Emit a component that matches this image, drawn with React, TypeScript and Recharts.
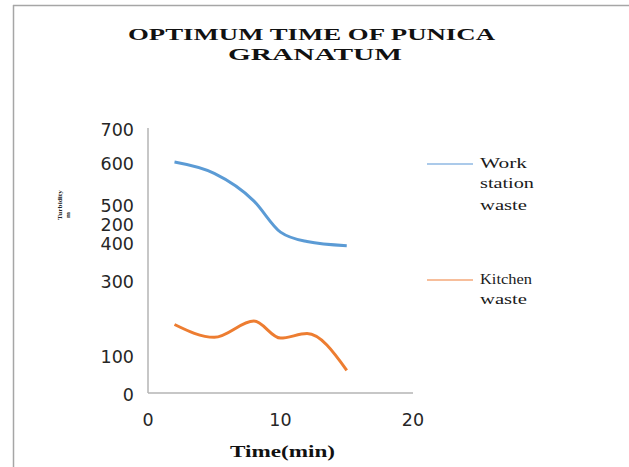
import React from 'react';
import { LineChart, Line, XAxis, YAxis } from 'recharts';

// values
const TIME = [2, 5, 8, 10, 12, 15];
const WORK_STATION = [610, 580, 507, 425, 400, 389];
const KITCHEN = [181, 147, 190, 145, 157, 60];

const X_TICKS = [0, 10, 20];
// the source figure has a stray "200" label sitting between 400 and 500
const Y_TICKS = [0, 100, 300, 400, 450, 500, 610, 700];
const Y_TICK_LABELS = ['0', '100', '300', '400', '200', '500', '600', '700'];

const SERIES = [
  { key: 'work', lines: ['Work', 'station', 'waste'], widths: [47, 54, 47], color: '#5b9bd5', legendColor: '#8fb9e3' },
  { key: 'kitchen', lines: ['Kitchen', 'waste'], widths: [52, 47], color: '#ed7d31', legendColor: '#f4a97a' },
];

const data = TIME.map((t, i) => ({ time: t, work: WORK_STATION[i], kitchen: KITCHEN[i] }));

const TICK_FONT = '"DejaVu Sans", Verdana, sans-serif';
const SERIF = '"Liberation Serif", "Times New Roman", serif';

const YTick = (props: any) => {
  const { x, y, payload } = props;
  const idx = Y_TICKS.indexOf(payload.value);
  return (
    <text x={x} y={y + 2} dy="0.35em" textAnchor="end" fontFamily={TICK_FONT} fontSize={17.5} fill="#262626">
      {Y_TICK_LABELS[idx]}
    </text>
  );
};

const XTick = (props: any) => {
  const { x, y, payload } = props;
  return (
    <text x={x} y={y + 25} dy="0.35em" textAnchor="middle" fontFamily={TICK_FONT} fontSize={17.5} fill="#262626">
      {payload.value}
    </text>
  );
};

// legend entries: top of each block, in page pixels
const LEGEND_TOP = [164, 280];
const LEGEND_LINE_GAP = [0, 20, 42];

export default function App() {
  return (
    <div style={{ position: 'absolute', left: 0, top: 0, width: 629, height: 467, background: '#fff' }}>
      <LineChart
        width={629}
        height={467}
        data={data}
        margin={{ top: 128, right: 216, bottom: 44, left: 68 }}
      >
        <XAxis
          dataKey="time"
          type="number"
          domain={[0, 20]}
          ticks={X_TICKS}
          height={30}
          tickLine={false}
          tickSize={0}
          tick={<XTick />}
          axisLine={{ stroke: '#b4b4b4', strokeWidth: 1.5 }}
        />
        <YAxis
          type="number"
          domain={[0, 700]}
          ticks={Y_TICKS}
          width={80}
          tickLine={false}
          tickSize={0}
          tickMargin={14}
          tick={<YTick />}
          interval={0}
          axisLine={{ stroke: '#b4b4b4', strokeWidth: 1.5 }}
        />
        {SERIES.map(s => (
          <Line
            key={s.key}
            dataKey={s.key}
            name={s.lines.join(' ')}
            type="monotone"
            stroke={s.color}
            strokeWidth={3}
            dot={false}
            isAnimationActive={false}
          />
        ))}
      </LineChart>
      <svg
        width={629}
        height={467}
        style={{ position: 'absolute', left: 0, top: 0, pointerEvents: 'none' }}
      >
        <line x1={13.5} x2={13.5} y1={5} y2={467} stroke="#a6a6a6" strokeWidth={1.5} />
        <line x1={13} x2={629} y1={5.5} y2={5.5} stroke="#a6a6a6" strokeWidth={1.5} />
        <text x={128} y={40} fontFamily={SERIF} fontWeight="bold" fontSize={17} textLength={367} lengthAdjust="spacingAndGlyphs" fill="#111">
          OPTIMUM TIME OF PUNICA
        </text>
        <text x={228} y={60} fontFamily={SERIF} fontWeight="bold" fontSize={17} textLength={174} lengthAdjust="spacingAndGlyphs" fill="#111">
          GRANATUM
        </text>
        <text x={230} y={457} fontFamily={SERIF} fontWeight="bold" fontSize={16} textLength={105} lengthAdjust="spacingAndGlyphs" fill="#111">
          Time(min)
        </text>
        <text transform="translate(62 220) rotate(-90)" fontFamily={SERIF} fontWeight="bold" fontSize={6} textLength={30} lengthAdjust="spacingAndGlyphs" fill="#222">
          Turbidity
        </text>
        <text transform="translate(70 218) rotate(-90)" fontFamily={SERIF} fontWeight="bold" fontSize={7} fill="#222">
          m
        </text>
        {SERIES.map((s, si) => (
          <g key={s.key}>
            <line x1={427} x2={473} y1={LEGEND_TOP[si]} y2={LEGEND_TOP[si]} stroke={s.legendColor} strokeWidth={1.5} />
            {s.lines.map((txt, li) => (
              <text
                key={txt + li}
                x={480}
                y={LEGEND_TOP[si] + 4 + LEGEND_LINE_GAP[li]}
                fontFamily={SERIF}
                fontSize={15}
                textLength={s.widths[li]}
                lengthAdjust="spacingAndGlyphs"
                fill="#1a1a1a"
              >
                {txt}
              </text>
            ))}
          </g>
        ))}
      </svg>
    </div>
  );
}
